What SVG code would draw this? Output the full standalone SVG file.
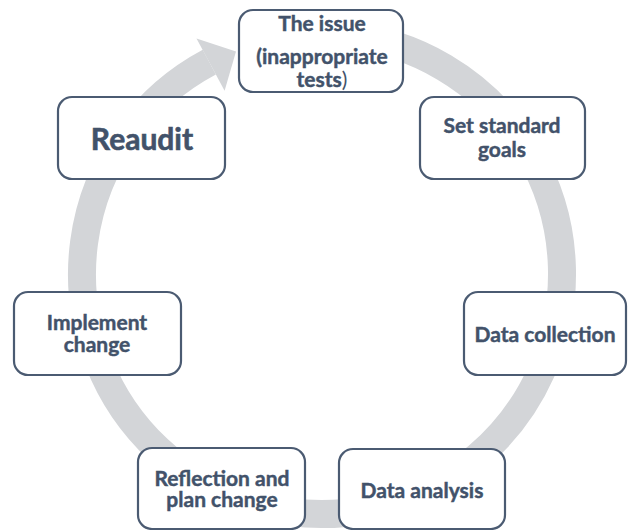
<svg xmlns="http://www.w3.org/2000/svg" width="628" height="530" viewBox="0 0 628 530">
  <style>
    .box { fill: #ffffff; stroke: #4b5b72; stroke-width: 2.2; }
    .lbl { font-family: Lato, "Open Sans", "Liberation Sans", sans-serif; font-weight: bold; font-size: 21px; fill: #42526a; stroke: #42526a; stroke-width: 0.45; text-anchor: middle; }
    .big { font-size: 30px; stroke-width: 0.6; }
    .thin { font-weight: normal; stroke-width: 0; }
    .cycle { fill: none; stroke: #d3d5d8; stroke-width: 28; }
    .head { fill: #d3d5d8; }
  </style>
  <rect width="628" height="530" fill="#ffffff"/>

  <!-- cycle arrow running clockwise behind the boxes -->
  <g id="connectors">
    <path class="cycle" d="M 342.9 34.9 A 240 240 0 1 1 209.3 62.1"/>
    <polygon class="head" points="196.5,38.5 236,51.5 224.6,90.8"/>
  </g>

  <g id="node-issue">
    <rect class="box" x="239" y="10" width="164" height="82" rx="14"/>
    <text class="lbl" x="322" y="31">The issue<tspan x="322" dy="33">(inappropriate</tspan><tspan x="322" dy="23">tests<tspan class="thin">)</tspan></tspan></text>
  </g>

  <g id="node-standards">
    <rect class="box" x="420" y="97" width="165" height="82" rx="14"/>
    <text class="lbl" x="502" y="133">Set standard<tspan x="502" dy="24">goals</tspan></text>
  </g>

  <g id="node-collection">
    <rect class="box" x="464" y="292" width="162" height="83" rx="14"/>
    <text class="lbl" x="545" y="342">Data collection</text>
  </g>

  <g id="node-analysis">
    <rect class="box" x="339" y="449" width="166" height="80" rx="14"/>
    <text class="lbl" x="422" y="498">Data analysis</text>
  </g>

  <g id="node-reflection">
    <rect class="box" x="138" y="448" width="167" height="81" rx="14"/>
    <text class="lbl" x="222" y="486">Reflection and<tspan x="222" dy="21">plan change</tspan></text>
  </g>

  <g id="node-implement">
    <rect class="box" x="14" y="292" width="167" height="83" rx="14"/>
    <text class="lbl" x="97" y="330">Implement<tspan x="97" dy="22">change</tspan></text>
  </g>

  <g id="node-reaudit">
    <rect class="box" x="58" y="97" width="167" height="82" rx="14"/>
    <text class="lbl big" x="142" y="150">Reaudit</text>
  </g>
</svg>
